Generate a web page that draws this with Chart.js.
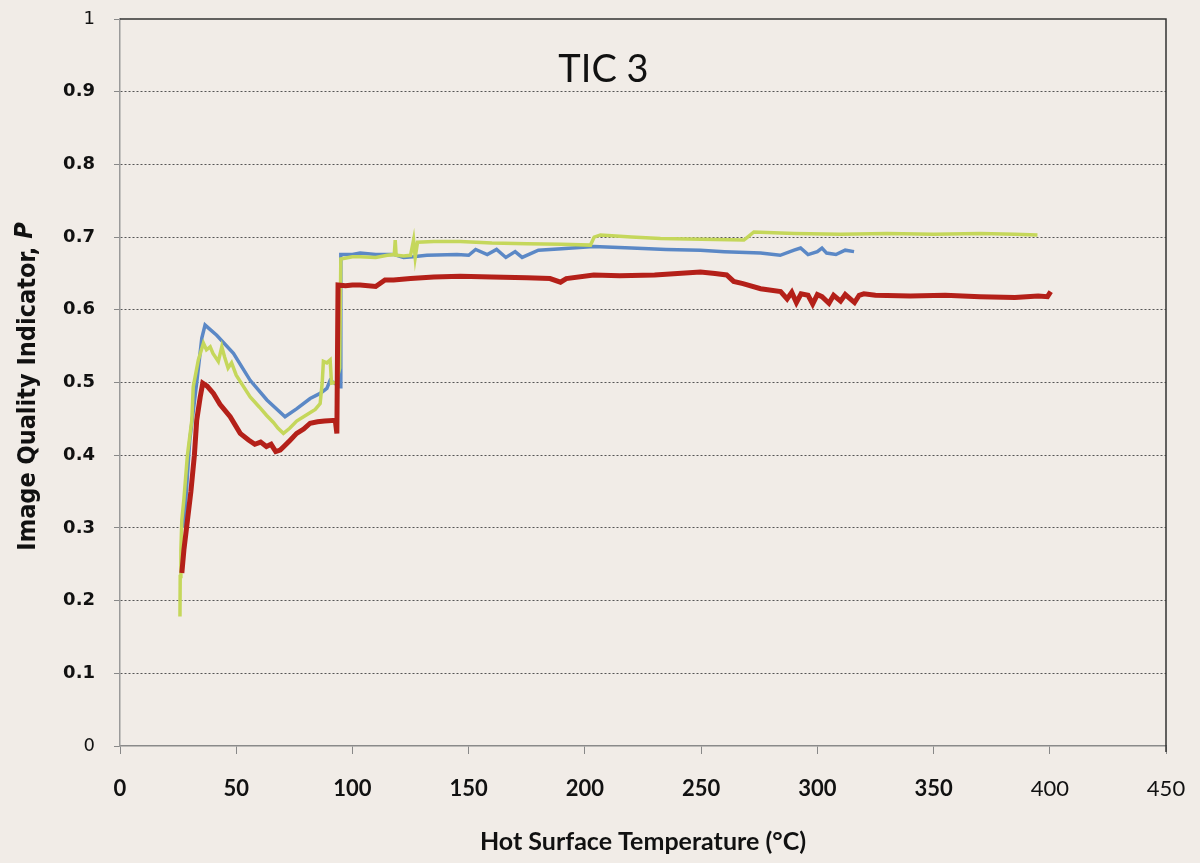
<!DOCTYPE html>
<html>
<head>
<meta charset="utf-8">
<script src="https://cdn.jsdelivr.net/npm/chart.js@4"></script>
<style>
  html, body { margin: 0; padding: 0; background: #f1ece7; }
  #wrap { width: 1200px; height: 863px; }
</style>
</head>
<body>
<div id="wrap"><canvas id="c" width="1200" height="863"></canvas></div>
<script>
// ---- Data ----
const chartTitle = "TIC 3";
const xAxisTitle = "Hot Surface Temperature (°C)";
const yAxisTitle = "Image Quality Indicator, ";
const yAxisTitleItalic = "P";
const xTicks = [0, 50, 100, 150, 200, 250, 300, 350, 400, 450];
const yTicks = [0, 0.1, 0.2, 0.3, 0.4, 0.5, 0.6, 0.7, 0.8, 0.9, 1];

// Red series
const redX = [26.6, 27.5, 29, 30.5, 32, 33, 34.5, 35.6, 37.5, 40.2, 43, 47.4, 51.7, 55.3, 58, 60.5, 63, 65, 67, 68.9, 70.5, 73, 76, 79, 81.8, 85, 88, 92.6, 93.3, 93.8, 97, 100, 103.3, 110, 114, 117.7, 125, 135, 146.4, 160, 175, 185, 189.5, 192, 203.8, 215, 230, 249.7, 256, 261, 264, 268, 275.6, 284.2, 287, 289, 291, 293, 296, 298, 300, 302, 305, 307, 310, 312, 316, 318, 320, 325, 340, 355, 370, 385, 395, 399, 400.4];
const redY = [0.238, 0.27, 0.31, 0.35, 0.40, 0.448, 0.48, 0.499, 0.495, 0.485, 0.47, 0.453, 0.43, 0.421, 0.415, 0.418, 0.412, 0.415, 0.405, 0.407, 0.412, 0.42, 0.43, 0.436, 0.444, 0.446, 0.447, 0.448, 0.43, 0.634, 0.633, 0.634, 0.634, 0.632, 0.641, 0.641, 0.643, 0.645, 0.646, 0.645, 0.644, 0.643, 0.638, 0.643, 0.648, 0.647, 0.648, 0.652, 0.65, 0.648, 0.639, 0.636, 0.629, 0.625, 0.615, 0.624, 0.61, 0.622, 0.62, 0.608, 0.621, 0.618, 0.609, 0.62, 0.612, 0.621, 0.61, 0.62, 0.622, 0.62, 0.619, 0.62, 0.618, 0.617, 0.619, 0.618, 0.625];

// Blue series
const blueX = [27.5, 30, 33, 35.2, 36.6, 41.6, 48.8, 56, 63.2, 71, 76.1, 81.8, 86.1, 89, 90.4, 94.7, 95, 100, 103.3, 110, 118, 122, 126, 132, 145, 150, 153, 158, 162, 166, 170, 173, 180, 190, 203.8, 220, 235, 249.7, 260, 275.6, 284, 290, 292.8, 296, 300, 302, 304, 308, 312, 315.8];
const blueY = [0.30, 0.42, 0.50, 0.561, 0.579, 0.565, 0.54, 0.503, 0.476, 0.453, 0.464, 0.478, 0.485, 0.492, 0.503, 0.494, 0.676, 0.676, 0.678, 0.676, 0.676, 0.672, 0.673, 0.675, 0.676, 0.675, 0.683, 0.676, 0.683, 0.672, 0.68, 0.672, 0.682, 0.684, 0.687, 0.685, 0.683, 0.682, 0.68, 0.678, 0.675, 0.682, 0.685, 0.676, 0.68, 0.685, 0.678, 0.676, 0.682, 0.68];

// Green series
const greenX = [25.8, 25.9, 26.2, 26.6, 27.5, 29, 30.9, 31.5, 33.7, 35.9, 37.2, 38.8, 40, 42.3, 43.8, 45, 46.5, 48, 50, 53, 56, 60, 63, 66, 68, 70.3, 73, 76, 80, 84, 86.1, 87, 87.5, 89, 90.4, 91, 93, 94.5, 95, 100, 103.3, 110, 115, 118, 118.4, 118.8, 122, 125, 126.3, 127, 128, 135, 146.4, 160, 175, 190, 202.4, 204, 206.7, 220, 232.5, 250, 268.4, 270, 272.7, 290, 310, 330, 350, 370, 385, 394.7];
const greenY = [0.178, 0.233, 0.27, 0.311, 0.34, 0.40, 0.448, 0.494, 0.531, 0.554, 0.545, 0.549, 0.54, 0.529, 0.549, 0.535, 0.52, 0.527, 0.51, 0.495, 0.48, 0.466, 0.455, 0.445, 0.437, 0.430, 0.437, 0.447, 0.455, 0.463, 0.471, 0.50, 0.529, 0.527, 0.531, 0.499, 0.50, 0.52, 0.67, 0.673, 0.673, 0.672, 0.675, 0.676, 0.696, 0.675, 0.674, 0.675, 0.696, 0.672, 0.693, 0.694, 0.694, 0.692, 0.691, 0.69, 0.689, 0.70, 0.703, 0.70, 0.698, 0.697, 0.696, 0.70, 0.707, 0.705, 0.704, 0.705, 0.704, 0.705, 0.704, 0.703];

const toPts = (xs, ys) => xs.map((x, i) => ({ x: x, y: ys[i] }));

const bgPlugin = {
  id: 'bg',
  beforeDraw(chart) {
    const c = chart.ctx;
    c.save();
    c.fillStyle = '#f1ece7';
    c.fillRect(0, 0, chart.width, chart.height);
    c.restore();
  }
};

const framePlugin = {
  id: 'frame',
  afterDraw(chart) {
    const c = chart.ctx;
    const a = chart.chartArea;
    c.save();
    // top and right border lines
    c.strokeStyle = '#333';
    c.lineWidth = 1.5;
    c.beginPath();
    c.moveTo(a.left, a.top);
    c.lineTo(a.right, a.top);
    c.lineTo(a.right, a.bottom + 6);
    c.stroke();
    // chart title
    c.fillStyle = '#111';
    c.font = '38px Lato, "Liberation Sans", sans-serif';
    c.textAlign = 'center';
    c.textBaseline = 'middle';
    c.fillText(chartTitle, chart.scales.x.getPixelForValue(208), chart.scales.y.getPixelForValue(0.93));
    // rotated y-axis title with italic P
    const cy = (a.top + a.bottom) / 2 + 4;
    c.translate(28, cy);
    c.rotate(-Math.PI / 2);
    c.textBaseline = 'middle';
    c.textAlign = 'left';
    const f1 = 'bold 25px "Liberation Sans Narrow", "DejaVu Sans Condensed", sans-serif';
    const f2 = 'italic bold 25px "Liberation Sans Narrow", "DejaVu Sans Condensed", sans-serif';
    c.font = f1;
    const w1 = c.measureText(yAxisTitle).width;
    c.font = f2;
    const w2 = c.measureText(yAxisTitleItalic).width;
    const start = -(w1 + w2) / 2;
    c.font = f1;
    c.fillText(yAxisTitle, start, 0);
    c.font = f2;
    c.fillText(yAxisTitleItalic, start + w1, -3);
    c.restore();
  }
};

new Chart(document.getElementById('c'), {
  type: 'scatter',
  data: {
    datasets: [
      { data: toPts(redX, redY), showLine: true, borderColor: '#b42019', borderWidth: 5, pointRadius: 0, tension: 0 },
      { data: toPts(greenX, greenY), showLine: true, borderColor: '#c5d75b', borderWidth: 3.5, pointRadius: 0, tension: 0 },
      { data: toPts(blueX, blueY), showLine: true, borderColor: '#5b88c6', borderWidth: 3.5, pointRadius: 0, tension: 0 }
    ]
  },
  options: {
    responsive: false,
    animation: false,
    layout: { padding: { left: 0, right: 34, top: 19, bottom: 0 } },
    plugins: { legend: { display: false }, tooltip: { enabled: false } },
    scales: {
      x: {
        type: 'linear', min: 0, max: 450,
        afterBuildTicks: s => { s.ticks = xTicks.map(v => ({ value: v })); },
        afterFit: s => { s.height = 117; s.paddingLeft = 0; s.paddingRight = 0; },
        ticks: {
          color: '#111', padding: 22, maxRotation: 0,
          font: ctx => ({ family: 'Lato, "Liberation Sans", sans-serif', size: 22, weight: (ctx.tick && ctx.tick.value >= 400) ? 'normal' : 'bold' })
        },
        grid: { drawOnChartArea: false, drawTicks: true, tickLength: 8, color: '#888', lineWidth: 1 },
        border: { display: true, color: '#8a8a8a', width: 1.5 },
        title: { display: true, text: xAxisTitle, color: '#111', font: { family: 'Lato, "Liberation Sans", sans-serif', size: 25, weight: 'bold' }, padding: { top: 0, bottom: 6 } }
      },
      y: {
        type: 'linear', min: 0, max: 1,
        afterBuildTicks: s => { s.ticks = yTicks.map(v => ({ value: v })); },
        afterFit: s => { s.width = 120; s.paddingTop = 0; s.paddingBottom = 0; },
        ticks: {
          color: '#111', padding: 19,
          callback: v => String(v),
          font: ctx => ({ family: '"DejaVu Sans", sans-serif', size: 18, weight: (ctx.tick && (ctx.tick.value === 0 || ctx.tick.value === 1)) ? 'normal' : 'bold' })
        },
        grid: {
          drawTicks: true, tickLength: 6, lineWidth: 1,
          color: ctx => (ctx.tick && (ctx.tick.value === 0 || ctx.tick.value === 1)) ? 'rgba(0,0,0,0)' : '#555',
          tickColor: '#888'
        },
        border: { display: true, color: '#9a9a9a', width: 1.5, dash: [2, 2] }
      }
    }
  },
  plugins: [bgPlugin, framePlugin]
});
</script>
</body>
</html>
